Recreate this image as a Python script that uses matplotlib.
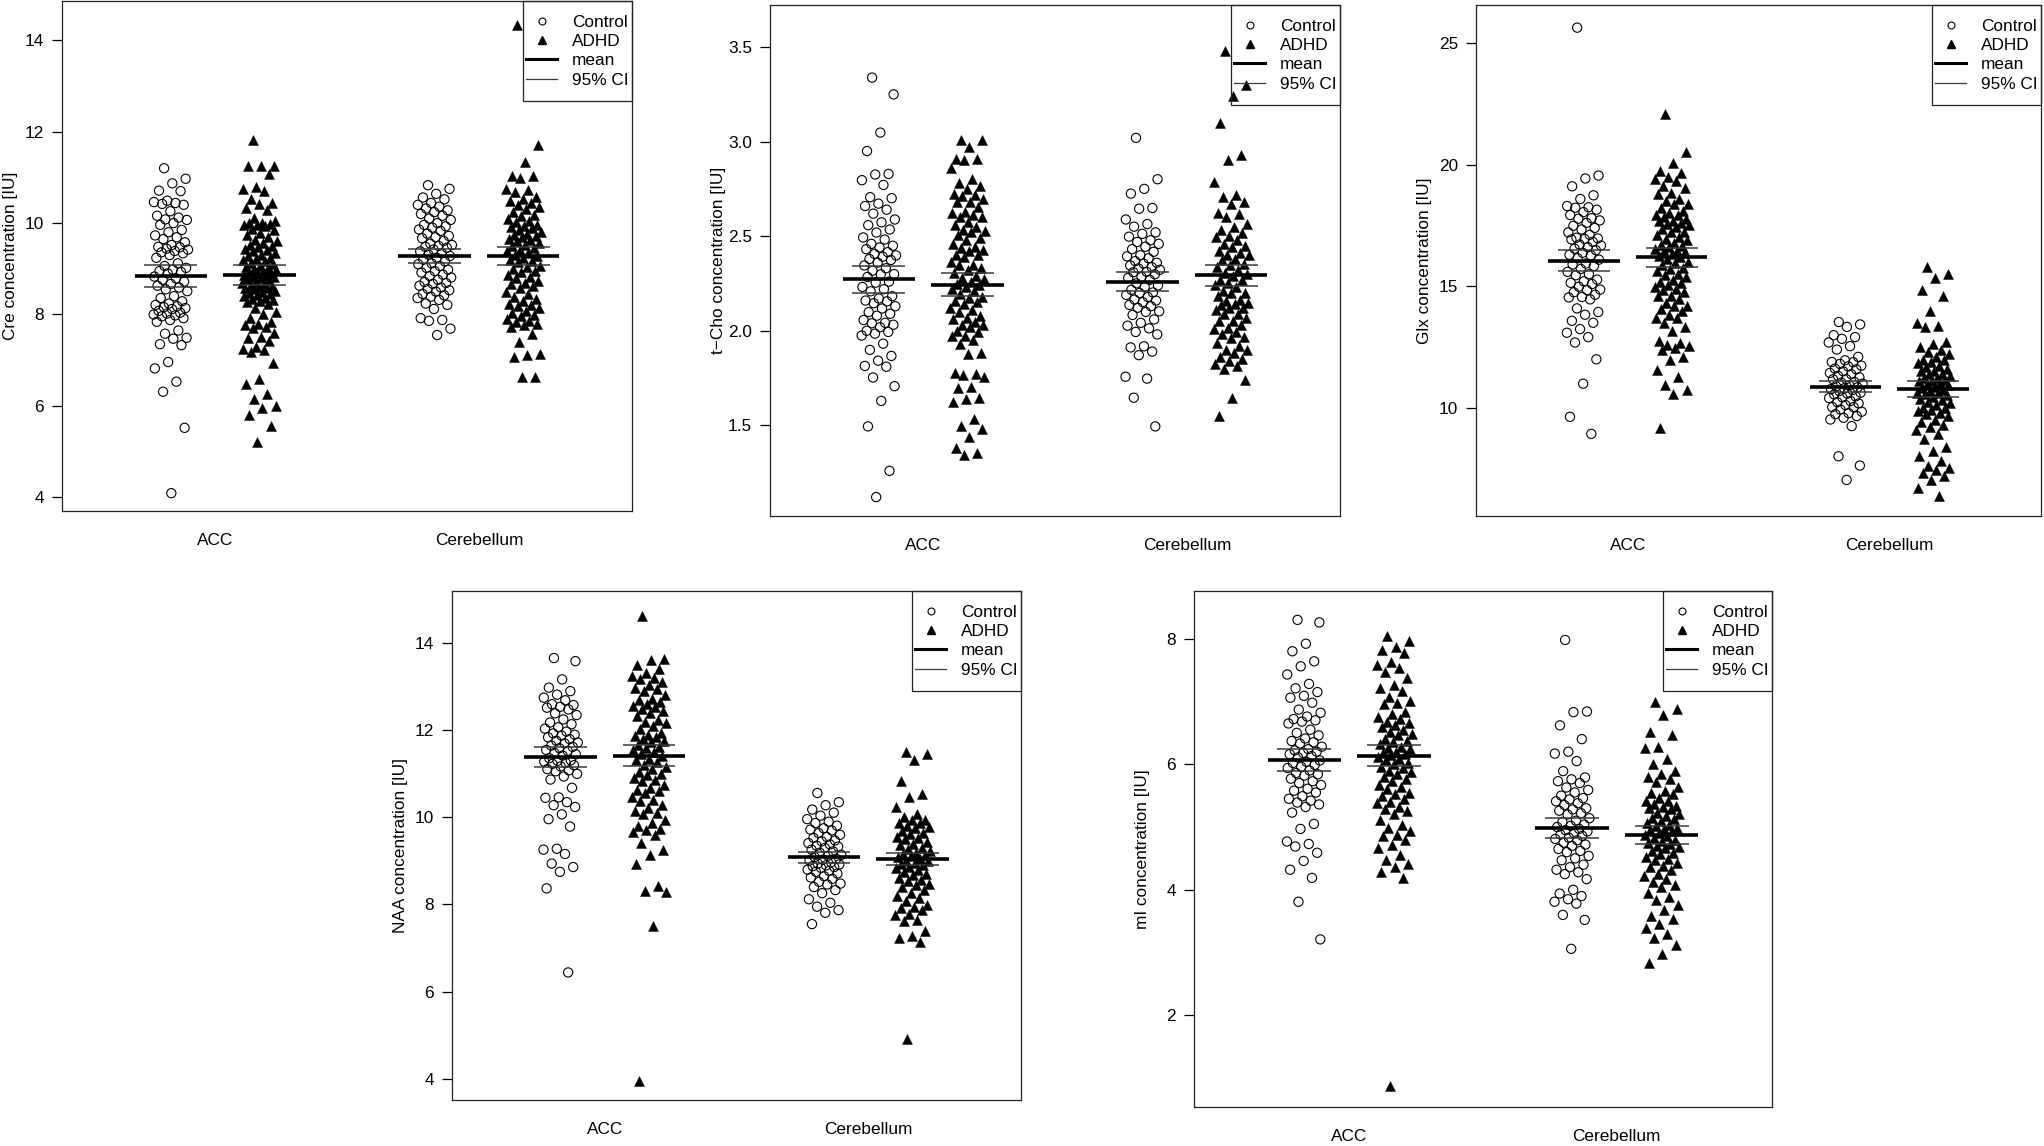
import numpy as np
import matplotlib
matplotlib.use("Agg")
import matplotlib.pyplot as plt
from matplotlib.lines import Line2D
from matplotlib.patches import Rectangle

plt.rcParams['font.family'] = ['Liberation Sans', 'DejaVu Sans']
plt.rcParams['font.size'] = 12.4

regions = ["ACC", "Cerebellum"]
groups = ["Control", "ADHD"]

# ---------------- Cre ----------------
cre_ctrl_acc = [11.20, 10.97, 10.87, 10.71, 10.70, 10.49, 10.46, 10.44, 10.42, 10.40, 10.26, 10.16, 10.12, 10.08,
                10.07, 10.00, 9.96, 9.80, 9.73, 9.69, 9.65, 9.52, 9.47, 9.44, 9.42, 9.39, 9.34, 9.30, 9.24, 9.06,
                9.02, 8.98, 8.95, 8.90, 8.83, 8.79, 8.76, 8.67, 8.63, 8.59, 8.51, 8.36, 8.29, 8.24, 8.21, 8.18,
                8.16, 8.12, 8.08, 8.04, 8.00, 7.96, 7.92, 7.88, 7.84, 7.65, 7.58, 7.49, 7.47, 7.35, 7.33, 6.96,
                6.82, 6.53, 6.31, 5.52, 4.09, 9.85, 9.58, 9.36, 9.12, 8.93, 8.72, 8.55, 8.40, 8.14, 8.02, 7.98,
                9.48]
cre_adhd_acc = [11.81, 11.26, 11.26, 11.25, 11.08, 10.78, 10.75, 10.70, 10.52, 10.44, 10.42, 10.32, 10.28, 10.05,
                10.00, 10.00, 9.99, 9.96, 9.95, 9.93, 9.79, 9.73, 9.70, 9.60, 9.53, 9.50, 9.47, 9.42, 9.38, 9.34,
                9.28, 9.24, 9.22, 9.16, 9.10, 9.06, 9.02, 9.00, 8.97, 8.95, 8.91, 8.89, 8.84, 8.83, 8.79, 8.75,
                8.71, 8.67, 8.65, 8.61, 8.59, 8.55, 8.51, 8.47, 8.45, 8.42, 8.37, 8.34, 8.29, 8.27, 8.24, 8.14,
                8.06, 7.92, 7.84, 7.80, 7.77, 7.73, 7.71, 7.51, 7.49, 7.43, 7.29, 7.24, 7.22, 7.18, 6.94, 6.59,
                6.47, 6.25, 6.15, 6.00, 5.96, 5.80, 5.56, 5.21, 9.88, 9.64, 9.56, 9.44, 9.31, 9.19, 9.12, 9.04,
                8.93, 8.86, 8.81, 8.77, 8.69, 8.63, 8.57, 8.49, 8.40, 8.31, 10.12, 9.84, 7.60, 8.00]
cre_ctrl_cer = [10.83, 10.75, 10.64, 10.56, 10.52, 10.44, 10.40, 10.36, 10.28, 10.24, 10.20, 10.16, 10.10, 10.07,
                10.00, 9.96, 9.93, 9.86, 9.83, 9.77, 9.69, 9.67, 9.61, 9.55, 9.50, 9.46, 9.42, 9.38, 9.34, 9.28,
                9.24, 9.20, 9.16, 9.10, 9.06, 9.02, 8.98, 8.92, 8.87, 8.81, 8.76, 8.71, 8.67, 8.63, 8.59, 8.53,
                8.50, 8.45, 8.42, 8.36, 8.32, 8.24, 8.21, 8.12, 7.92, 7.88, 7.86, 7.69, 7.55, 9.90, 9.72, 9.52,
                9.31, 9.12, 8.95, 8.84, 8.69, 8.56, 8.39, 9.48, 10.32]
cre_adhd_cer = [14.33, 11.70, 11.33, 11.04, 11.03, 10.99, 10.75, 10.72, 10.68, 10.57, 10.52, 10.44, 10.40, 10.36,
                10.24, 10.18, 10.15, 10.10, 10.02, 9.94, 9.89, 9.85, 9.81, 9.77, 9.73, 9.69, 9.65, 9.60, 9.53,
                9.50, 9.46, 9.39, 9.34, 9.28, 9.24, 9.20, 9.14, 9.06, 9.00, 8.92, 8.87, 8.79, 8.73, 8.67, 8.59,
                8.50, 8.39, 8.34, 8.29, 8.24, 8.18, 8.14, 8.08, 8.03, 7.96, 7.90, 7.84, 7.80, 7.77, 7.73, 7.57,
                7.40, 7.14, 7.12, 7.06, 6.64, 6.63, 10.30, 10.05, 9.91, 9.71, 9.56, 9.42, 9.31, 9.17, 9.03, 8.96,
                8.83, 8.63, 8.45, 8.21, 7.99, 7.86, 9.95, 10.48, 8.70, 9.62]
cre_mean = [8.84, 8.87, 9.28, 9.28]
cre_ci_lo = [8.61, 8.65, 9.13, 9.09]
cre_ci_hi = [9.08, 9.08, 9.44, 9.47]

# ---------------- t-Cho ----------------
tcho_ctrl_acc = [3.340, 3.251, 3.049, 2.951, 2.827, 2.830, 2.797, 2.772, 2.707, 2.702, 2.673, 2.660, 2.641, 2.589,
                 2.574, 2.559, 2.536, 2.494, 2.483, 2.460, 2.441, 2.432, 2.416, 2.407, 2.399, 2.392, 2.375, 2.361,
                 2.346, 2.331, 2.318, 2.299, 2.285, 2.255, 2.232, 2.209, 2.183, 2.171, 2.156, 2.146, 2.118, 2.099,
                 2.080, 2.057, 2.042, 2.032, 2.019, 1.994, 1.985, 1.975, 1.932, 1.899, 1.867, 1.842, 1.814, 1.810,
                 1.753, 1.707, 1.629, 1.494, 1.259, 1.120, 2.45, 2.38, 2.30, 2.26, 2.16, 2.13, 2.09, 2.04, 2.00,
                 2.62, 2.52, 2.22]
tcho_adhd_acc = [3.011, 3.008, 2.973, 2.911, 2.907, 2.905, 2.859, 2.802, 2.783, 2.768, 2.749, 2.726, 2.711, 2.698,
                 2.679, 2.654, 2.631, 2.622, 2.612, 2.603, 2.574, 2.559, 2.536, 2.521, 2.508, 2.489, 2.460, 2.445,
                 2.437, 2.422, 2.399, 2.388, 2.365, 2.346, 2.323, 2.308, 2.289, 2.274, 2.260, 2.241, 2.232, 2.213,
                 2.194, 2.175, 2.156, 2.141, 2.122, 2.099, 2.080, 2.061, 2.046, 2.032, 2.019, 1.994, 1.975, 1.951,
                 1.928, 1.880, 1.875, 1.776, 1.772, 1.766, 1.757, 1.703, 1.696, 1.643, 1.639, 1.624, 1.532, 1.494,
                 1.481, 1.437, 1.380, 1.354, 1.342, 2.72, 2.60, 2.55, 2.48, 2.43, 2.40, 2.35, 2.33, 2.28, 2.25,
                 2.22, 2.18, 2.15, 2.11, 2.07, 2.03, 2.00, 1.97, 2.68, 2.53]
tcho_ctrl_cer = [3.021, 2.802, 2.751, 2.726, 2.650, 2.646, 2.589, 2.565, 2.551, 2.521, 2.513, 2.498, 2.479, 2.460,
                 2.445, 2.432, 2.418, 2.394, 2.384, 2.369, 2.356, 2.346, 2.337, 2.323, 2.312, 2.299, 2.285, 2.270,
                 2.251, 2.232, 2.217, 2.203, 2.190, 2.179, 2.165, 2.152, 2.137, 2.122, 2.103, 2.084, 2.042, 2.027,
                 2.013, 1.994, 1.981, 1.918, 1.912, 1.890, 1.871, 1.757, 1.747, 1.646, 1.494, 2.40, 2.36, 2.31,
                 2.28, 2.24, 2.20, 2.16, 2.13, 2.10, 2.06, 2.47, 2.33]
tcho_adhd_cer = [3.481, 3.302, 3.240, 3.101, 2.928, 2.903, 2.787, 2.717, 2.707, 2.679, 2.669, 2.622, 2.603, 2.565,
                 2.536, 2.517, 2.498, 2.483, 2.460, 2.441, 2.422, 2.413, 2.399, 2.375, 2.356, 2.337, 2.323, 2.308,
                 2.289, 2.270, 2.255, 2.232, 2.213, 2.198, 2.184, 2.165, 2.146, 2.137, 2.122, 2.108, 2.089, 2.070,
                 2.051, 2.032, 2.013, 1.994, 1.981, 1.966, 1.937, 1.918, 1.899, 1.880, 1.861, 1.842, 1.823, 1.814,
                 1.798, 1.738, 1.646, 1.551, 2.50, 2.45, 2.40, 2.35, 2.30, 2.27, 2.24, 2.20, 2.16, 2.12, 2.09,
                 2.05, 2.01, 1.96, 1.90, 1.85, 2.62, 2.55, 2.38, 2.14]
tcho_mean = [2.272, 2.245, 2.259, 2.293]
tcho_ci_lo = [2.200, 2.183, 2.209, 2.236]
tcho_ci_hi = [2.342, 2.308, 2.310, 2.346]

# ---------------- Glx ----------------
glx_ctrl_acc = [25.62, 19.55, 19.43, 19.11, 18.74, 18.59, 18.30, 18.25, 18.23, 18.15, 17.93, 17.78, 17.71, 17.61,
                17.49, 17.34, 17.22, 17.12, 16.97, 16.93, 16.83, 16.68, 16.61, 16.49, 16.38, 16.28, 16.16, 15.94,
                15.84, 15.72, 15.60, 15.46, 15.28, 15.21, 15.10, 14.99, 14.87, 14.76, 14.66, 14.57, 14.47, 14.10,
                13.95, 13.84, 13.59, 13.51, 13.25, 13.10, 12.92, 12.70, 12.01, 11.01, 9.65, 8.95, 17.80, 17.40,
                17.00, 16.72, 16.55, 16.30, 16.10, 15.90, 15.50, 15.15, 14.85, 14.55, 18.05, 16.95]
glx_adhd_acc = [22.08, 20.51, 20.07, 19.73, 19.67, 19.48, 19.40, 19.33, 19.14, 19.04, 18.84, 18.59, 18.52, 18.37,
                18.23, 18.11, 18.00, 17.93, 17.86, 17.75, 17.67, 17.61, 17.52, 17.42, 17.34, 17.22, 17.12, 17.02,
                16.90, 16.78, 16.68, 16.61, 16.53, 16.46, 16.34, 16.24, 16.13, 16.02, 15.87, 15.75, 15.65, 15.50,
                15.40, 15.28, 15.16, 15.06, 14.99, 14.87, 14.76, 14.62, 14.47, 14.32, 14.18, 14.07, 13.98, 13.81,
                13.69, 13.51, 13.34, 13.19, 12.78, 12.66, 12.55, 12.48, 12.41, 12.11, 11.97, 11.57, 11.27, 10.94,
                10.74, 10.60, 9.21, 18.80, 18.40, 17.95, 17.55, 17.25, 16.95, 16.70, 16.45, 16.20, 15.95, 15.70,
                15.45, 15.20, 14.90, 14.60, 14.20, 13.70, 12.60, 17.70, 16.40]
glx_ctrl_cer = [13.54, 13.44, 13.34, 13.00, 12.92, 12.85, 12.70, 12.55, 12.41, 12.11, 11.97, 11.89, 11.82, 11.72,
                11.63, 11.52, 11.45, 11.33, 11.27, 11.19, 11.08, 11.01, 10.94, 10.86, 10.79, 10.71, 10.64, 10.57,
                10.49, 10.42, 10.30, 10.20, 10.13, 10.05, 9.95, 9.86, 9.76, 9.68, 9.61, 9.54, 9.27, 8.03, 7.65,
                7.06, 11.90, 11.60, 11.40, 11.20, 11.05, 10.90, 10.75, 10.60, 10.45, 10.25, 10.05, 9.80, 11.75,
                10.82]
glx_adhd_cer = [15.80, 15.50, 15.35, 14.87, 14.62, 13.98, 13.51, 13.39, 13.34, 12.70, 12.63, 12.51, 12.41, 12.22,
                12.11, 11.97, 11.86, 11.75, 11.63, 11.52, 11.42, 11.33, 11.23, 11.13, 11.04, 10.94, 10.86, 10.74,
                10.64, 10.57, 10.45, 10.35, 10.24, 10.13, 10.01, 9.90, 9.80, 9.68, 9.54, 9.32, 9.24, 9.09, 8.95,
                8.73, 8.43, 8.24, 8.03, 7.84, 7.62, 7.55, 7.47, 7.36, 7.21, 7.06, 6.74, 6.41, 12.30, 12.00, 11.70,
                11.55, 11.40, 11.25, 11.10, 10.98, 10.85, 10.70, 10.55, 10.40, 10.20, 10.00, 9.75, 9.45, 11.90,
                11.15, 10.62, 9.95]
glx_mean = [16.05, 16.19, 10.89, 10.80]
glx_ci_lo = [15.62, 15.80, 10.66, 10.48]
glx_ci_hi = [16.49, 16.56, 11.13, 11.10]

# ---------------- NAA ----------------
naa_ctrl_acc = [13.66, 13.59, 13.17, 12.98, 12.90, 12.82, 12.75, 12.69, 12.58, 12.54, 12.52, 12.48, 12.39, 12.35,
                12.18, 12.14, 12.07, 12.04, 11.97, 11.93, 11.88, 11.84, 11.80, 11.76, 11.70, 11.65, 11.59, 11.53,
                11.48, 11.42, 11.36, 11.31, 11.28, 11.23, 11.17, 11.11, 11.06, 11.00, 10.94, 10.87, 10.68, 10.46,
                10.45, 10.35, 10.28, 10.24, 10.07, 9.96, 9.79, 9.28, 9.26, 9.16, 8.94, 8.86, 8.75, 8.37, 6.44,
                12.25, 11.90, 11.72, 11.55, 11.45, 11.30, 11.20, 11.08, 11.25, 11.62, 12.60]
naa_adhd_acc = [14.63, 13.64, 13.62, 13.51, 13.41, 13.32, 13.24, 13.17, 13.11, 13.05, 12.98, 12.90, 12.82, 12.73,
                12.66, 12.60, 12.54, 12.48, 12.39, 12.32, 12.24, 12.16, 12.10, 12.04, 11.95, 11.87, 11.80, 11.73,
                11.67, 11.59, 11.50, 11.42, 11.33, 11.28, 11.21, 11.12, 11.04, 10.97, 10.91, 10.83, 10.74, 10.68,
                10.62, 10.55, 10.46, 10.38, 10.28, 10.21, 10.15, 10.07, 9.94, 9.87, 9.81, 9.73, 9.67, 9.60, 9.41,
                9.26, 9.14, 8.92, 8.43, 8.31, 8.29, 7.50, 3.95, 13.20, 12.95, 12.70, 12.45, 12.20, 11.90, 11.75,
                11.62, 11.45, 11.35, 11.15, 11.00, 10.85, 10.60, 10.40, 10.10, 9.70, 12.55, 11.85, 11.55]
naa_ctrl_cer = [10.56, 10.35, 10.28, 10.18, 10.11, 10.04, 9.96, 9.87, 9.81, 9.75, 9.70, 9.64, 9.60, 9.53, 9.47,
                9.41, 9.35, 9.30, 9.26, 9.19, 9.14, 9.09, 9.05, 9.01, 8.97, 8.92, 8.88, 8.84, 8.80, 8.75, 8.71,
                8.65, 8.59, 8.52, 8.46, 8.40, 8.33, 8.26, 8.12, 8.04, 7.95, 7.87, 7.81, 7.55, 9.90, 9.72, 9.55,
                9.45, 9.33, 9.22, 9.12, 9.03, 8.94, 8.86, 8.77, 8.62, 8.48, 9.38, 8.90]
naa_adhd_cer = [11.50, 11.45, 11.33, 10.83, 10.53, 10.46, 10.24, 10.07, 10.01, 9.94, 9.87, 9.81, 9.75, 9.69, 9.62,
                9.56, 9.50, 9.43, 9.36, 9.30, 9.24, 9.17, 9.11, 9.05, 8.99, 8.92, 8.86, 8.80, 8.74, 8.67, 8.60,
                8.54, 8.46, 8.40, 8.33, 8.26, 8.16, 8.08, 7.99, 7.93, 7.87, 7.78, 7.64, 7.61, 7.40, 7.27, 7.23,
                7.13, 4.91, 9.95, 9.78, 9.65, 9.52, 9.40, 9.28, 9.19, 9.08, 9.00, 8.90, 8.83, 8.70, 8.57, 8.44,
                8.20, 7.95, 7.75, 9.88, 9.14, 8.95]
naa_mean = [11.38, 11.42, 9.08, 9.04]
naa_ci_lo = [11.15, 11.17, 8.95, 8.90]
naa_ci_hi = [11.61, 11.66, 9.20, 9.19]

# ---------------- mI ----------------
mi_ctrl_acc = [8.30, 8.26, 7.92, 7.80, 7.64, 7.56, 7.43, 7.28, 7.21, 7.15, 7.09, 7.06, 6.98, 6.87, 6.82, 6.76,
               6.72, 6.68, 6.65, 6.55, 6.46, 6.41, 6.37, 6.33, 6.28, 6.24, 6.20, 6.16, 6.11, 6.06, 6.02, 5.99,
               5.94, 5.90, 5.86, 5.82, 5.77, 5.73, 5.67, 5.61, 5.55, 5.49, 5.45, 5.39, 5.36, 5.32, 5.23, 5.05,
               4.97, 4.77, 4.73, 4.69, 4.59, 4.46, 4.32, 4.19, 3.81, 3.21, 6.70, 6.50, 6.35, 6.22, 6.13, 6.04,
               5.96, 5.84, 5.70, 5.58, 5.42, 6.18]
mi_adhd_acc = [8.04, 7.97, 7.87, 7.82, 7.78, 7.63, 7.58, 7.53, 7.47, 7.37, 7.27, 7.21, 7.16, 7.07, 6.98, 6.96,
               6.84, 6.76, 6.72, 6.65, 6.59, 6.55, 6.51, 6.46, 6.41, 6.37, 6.33, 6.28, 6.24, 6.20, 6.16, 6.11,
               6.06, 6.02, 5.96, 5.90, 5.85, 5.79, 5.73, 5.67, 5.61, 5.55, 5.49, 5.44, 5.38, 5.32, 5.26, 5.20,
               5.11, 5.03, 4.94, 4.88, 4.79, 4.72, 4.67, 4.56, 4.47, 4.41, 4.36, 4.29, 4.19, 0.87, 7.00, 6.80,
               6.62, 6.48, 6.35, 6.26, 6.18, 6.09, 6.00, 5.88, 5.76, 5.64, 5.52, 5.40, 5.29, 4.98, 4.85, 6.68,
               6.14, 5.94]
mi_ctrl_cer = [7.98, 6.84, 6.83, 6.62, 6.40, 6.20, 6.17, 6.05, 5.89, 5.79, 5.76, 5.73, 5.63, 5.59, 5.55, 5.46,
               5.44, 5.41, 5.35, 5.30, 5.26, 5.20, 5.14, 5.08, 5.04, 5.00, 4.95, 4.93, 4.88, 4.83, 4.79, 4.75,
               4.70, 4.65, 4.60, 4.54, 4.47, 4.40, 4.32, 4.28, 4.25, 4.17, 4.00, 3.94, 3.90, 3.85, 3.81, 3.78,
               3.60, 3.52, 3.06, 5.70, 5.50, 5.38, 5.22, 5.10, 5.02, 4.97, 4.90, 4.81, 4.72, 4.62, 4.50, 4.36,
               5.28, 4.86]
mi_adhd_cer = [6.99, 6.88, 6.78, 6.51, 6.46, 6.28, 6.26, 6.08, 6.00, 5.90, 5.85, 5.77, 5.71, 5.64, 5.58, 5.52,
               5.46, 5.41, 5.36, 5.32, 5.28, 5.23, 5.18, 5.14, 5.10, 5.06, 5.01, 4.97, 4.93, 4.88, 4.83, 4.79,
               4.75, 4.70, 4.66, 4.62, 4.57, 4.53, 4.47, 4.42, 4.36, 4.31, 4.25, 4.18, 4.12, 4.05, 3.95, 3.88,
               3.83, 3.76, 3.68, 3.59, 3.53, 3.46, 3.39, 3.30, 3.24, 3.12, 2.98, 2.84, 5.80, 5.55, 5.42, 5.30,
               5.20, 5.12, 5.04, 4.99, 4.91, 4.85, 4.77, 4.68, 4.59, 4.49, 4.38, 4.22, 4.08, 5.34, 4.95, 4.73]
mi_mean = [6.06, 6.13, 4.98, 4.87]
mi_ci_lo = [5.89, 5.97, 4.83, 4.73]
mi_ci_hi = [6.24, 6.30, 5.15, 5.01]

panels = [
    dict(label="Cre concentration [IU]", data=[cre_ctrl_acc, cre_adhd_acc, cre_ctrl_cer, cre_adhd_cer],
         mean=cre_mean, lo=cre_ci_lo, hi=cre_ci_hi, ticks=[4, 6, 8, 10, 12, 14], tlab=None,
         ylim=(3.70, 14.86), px=(62, 1, 632, 511)),
    dict(label="t\u2212Cho concentration [IU]", data=[tcho_ctrl_acc, tcho_adhd_acc, tcho_ctrl_cer, tcho_adhd_cer],
         mean=tcho_mean, lo=tcho_ci_lo, hi=tcho_ci_hi, ticks=[1.5, 2.0, 2.5, 3.0, 3.5],
         tlab=["1.5", "2.0", "2.5", "3.0", "3.5"], ylim=(1.02, 3.724), px=(770, 5, 1340, 516)),
    dict(label="Glx concentration [IU]", data=[glx_ctrl_acc, glx_adhd_acc, glx_ctrl_cer, glx_adhd_cer],
         mean=glx_mean, lo=glx_ci_lo, hi=glx_ci_hi, ticks=[10, 15, 20, 25], tlab=None,
         ylim=(5.58, 26.55), px=(1476, 5, 2041, 516)),
    dict(label="NAA concentration [IU]", data=[naa_ctrl_acc, naa_adhd_acc, naa_ctrl_cer, naa_adhd_cer],
         mean=naa_mean, lo=naa_ci_lo, hi=naa_ci_hi, ticks=[4, 6, 8, 10, 12, 14], tlab=None,
         ylim=(3.51, 15.2), px=(452, 591, 1021, 1100)),
    dict(label="mI concentration [IU]", data=[mi_ctrl_acc, mi_adhd_acc, mi_ctrl_cer, mi_adhd_cer],
         mean=mi_mean, lo=mi_ci_lo, hi=mi_ci_hi, ticks=[2, 4, 6, 8], tlab=None,
         ylim=(0.54, 8.76), px=(1194, 591, 1772, 1107)),
]

W, H = 2044, 1146
fig = plt.figure(figsize=(W / 100, H / 100), dpi=100)

region_pos = [1.0, 2.0]
offset = 0.168
group_x = [region_pos[0] - offset, region_pos[0] + offset, region_pos[1] - offset, region_pos[1] + offset]
group_style = ["ctrl", "adhd", "ctrl", "adhd"]
jit = 0.066
ci_color = "#3a3a3a"

LEG_W, LEG_H = 109, 100  # legend frame size in pixels

for p in panels:
    l, t, r, b = p["px"]
    wpx, hpx = r - l, b - t
    ax = fig.add_axes([l / W, 1 - b / H, wpx / W, hpx / H])
    for gi, vals in enumerate(p["data"]):
        vals = np.sort(np.asarray(vals))[::-1]
        n = len(vals)
        offs = ((np.arange(n) * 0.6180339887 + 0.31) % 1.0 - 0.5) * 2 * jit
        xs = group_x[gi] + offs
        if group_style[gi] == "ctrl":
            ax.scatter(xs, vals, s=44, marker="o", facecolors="none", edgecolors="black",
                       linewidths=0.8, zorder=2)
        else:
            ax.scatter(xs, vals, s=52, marker="^", facecolors="black", edgecolors="black",
                       linewidths=0.3, zorder=2)
    for gi in range(4):
        x0 = group_x[gi]
        ax.plot([x0 - 0.10, x0 + 0.10], [p["lo"][gi]] * 2, color=ci_color, lw=1.1, zorder=3,
                solid_capstyle="butt")
        ax.plot([x0 - 0.10, x0 + 0.10], [p["hi"][gi]] * 2, color=ci_color, lw=1.1, zorder=3,
                solid_capstyle="butt")
        ax.plot([x0 - 0.137, x0 + 0.137], [p["mean"][gi]] * 2, color="black", lw=2.6, zorder=4,
                solid_capstyle="butt")
    ax.set_xlim(0.42, 2.58)
    ax.set_ylim(*p["ylim"])
    ax.set_yticks(p["ticks"])
    if p["tlab"] is not None:
        ax.set_yticklabels(p["tlab"])
    ax.set_xticks(region_pos)
    ax.set_xticklabels(regions)
    ax.tick_params(axis="x", length=0, pad=15.5, labelsize=12.4)
    ax.tick_params(axis="y", length=7, width=0.9, pad=6, labelsize=12.4, direction="out")
    for s in ax.spines.values():
        s.set_linewidth(0.9)
        s.set_color("#222222")
    ax.set_ylabel(p["label"], fontsize=12.4)
    ax.yaxis.set_label_coords(-44 / wpx, 0.5)

    # legend frame (R style, box in the top-right corner)
    ax.add_patch(Rectangle((1 - LEG_W / wpx, 1 - LEG_H / hpx), LEG_W / wpx, LEG_H / hpx,
                           transform=ax.transAxes, fill=False, edgecolor="#222222", lw=0.9,
                           clip_on=False, zorder=6))
    handles = [
        Line2D([], [], linestyle="none", marker="o", markerfacecolor="none", markeredgecolor="black",
               markersize=5, markeredgewidth=0.8),
        Line2D([], [], linestyle="none", marker="^", markerfacecolor="black", markeredgecolor="black",
               markersize=6),
        Line2D([], [], color="black", lw=2.2),
        Line2D([], [], color=ci_color, lw=0.9),
    ]
    leg = ax.legend(handles, ["Control", "ADHD", "mean", "95% CI"], loc="upper left",
                    bbox_to_anchor=(1 - (LEG_W - 3) / wpx, 1 - 14 / hpx),
                    borderaxespad=0, borderpad=0, frameon=False,
                    fontsize=12.4, labelspacing=0.24, handlelength=1.82, handletextpad=0.85)

fig.savefig("out.png", dpi=100, facecolor="white")
